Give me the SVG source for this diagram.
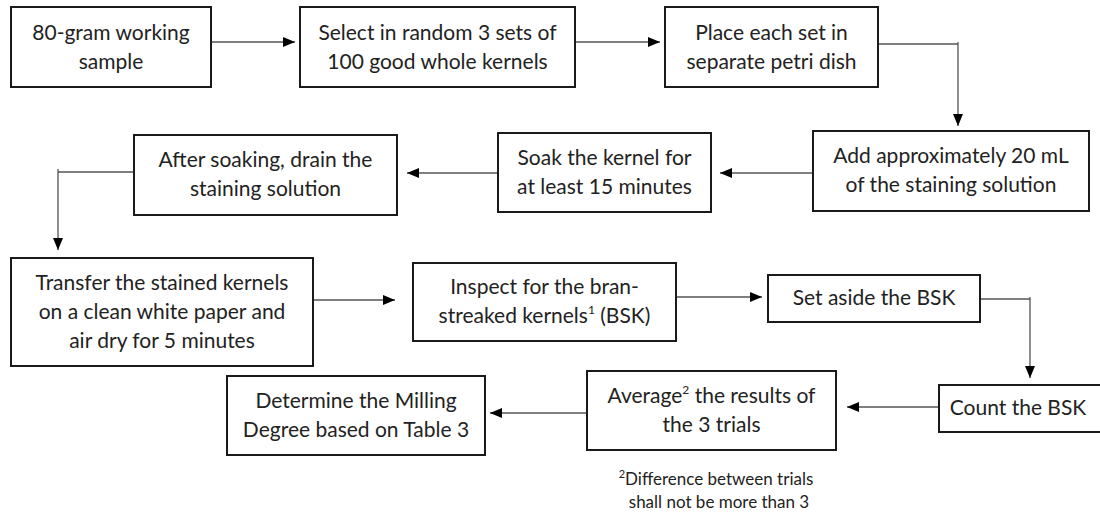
<svg xmlns="http://www.w3.org/2000/svg" width="1100" height="515" viewBox="0 0 1100 515">
<defs>
<style>
.box{fill:#fff;stroke:#1a1a1a;stroke-width:2}
.t{font-family:Lato,"Liberation Sans",sans-serif;font-size:21px;fill:#222;text-anchor:middle}
.fn{font-family:Lato,"Liberation Sans",sans-serif;font-size:17px;fill:#222;text-anchor:middle}
.c{fill:none;stroke:#555;stroke-width:1.3;marker-end:url(#ah)}
</style>
<marker id="ah" markerUnits="userSpaceOnUse" markerWidth="12" markerHeight="10" refX="12" refY="5" orient="auto">
<path d="M0,0 L12,5 L0,10 Z" fill="#000"/>
</marker>
</defs>
<rect width="1100" height="515" fill="#fff"/>
<g id="connectors">
<path class="c" d="M211,42 H295"/>
<path class="c" d="M575,42 H660"/>
<path class="c" d="M878,44 H958 M958,42 V126"/>
<path class="c" d="M813,173 H720"/>
<path class="c" d="M498,173 H407"/>
<path class="c" d="M134,172 H58 M58,169 V250"/>
<path class="c" d="M313,300 H395"/>
<path class="c" d="M676,297 H762"/>
<path class="c" d="M980,299 H1030 M1030,297 V378"/>
<path class="c" d="M939,407 H847"/>
<path class="c" d="M587,413 H490"/>
</g>
<g id="n1"><rect class="box" x="11" y="7" width="200" height="80"/><text class="t" x="111" y="40">80-gram working</text><text class="t" x="111" y="69">sample</text></g>
<g id="n2"><rect class="box" x="300" y="7" width="275" height="80"/><text class="t" x="437.5" y="40">Select in random 3 sets of</text><text class="t" x="437.5" y="69">100 good whole kernels</text></g>
<g id="n3"><rect class="box" x="665" y="7" width="213" height="80"/><text class="t" x="771.5" y="40">Place each set in</text><text class="t" x="771.5" y="69">separate petri dish</text></g>
<g id="n4"><rect class="box" x="813" y="131" width="276" height="80"/><text class="t" x="951" y="163">Add approximately 20 mL</text><text class="t" x="951" y="192">of the staining solution</text></g>
<g id="n5"><rect class="box" x="498" y="133" width="213" height="79"/><text class="t" x="604.5" y="165">Soak the kernel for</text><text class="t" x="604.5" y="194">at least 15 minutes</text></g>
<g id="n6"><rect class="box" x="134" y="135" width="263" height="80"/><text class="t" x="265.5" y="167">After soaking, drain the</text><text class="t" x="265.5" y="196">staining solution</text></g>
<g id="n7"><rect class="box" x="11" y="258" width="302" height="108"/><text class="t" x="162" y="290">Transfer the stained kernels</text><text class="t" x="162" y="319">on a clean white paper and</text><text class="t" x="162" y="348">air dry for 5 minutes</text></g>
<g id="n8"><rect class="box" x="413" y="263" width="263" height="78"/><text class="t" x="544.5" y="294">Inspect for the bran-</text><text class="t" x="544.5" y="323">streaked kernels<tspan font-size="12" dy="-9">1</tspan><tspan dy="9"> (BSK)</tspan></text></g>
<g id="n9"><rect class="box" x="768" y="275" width="212" height="47"/><text class="t" x="874" y="305">Set aside the BSK</text></g>
<g id="n10"><rect class="box" x="939" y="385" width="163" height="47"/><text class="t" x="1018" y="415">Count the BSK</text></g>
<g id="n11"><rect class="box" x="587" y="371" width="249" height="79"/><text class="t" x="711.5" y="403">Average<tspan font-size="12" dy="-9">2</tspan><tspan dy="9"> the results of</tspan></text><text class="t" x="711.5" y="432">the 3 trials</text></g>
<g id="n12"><rect class="box" x="227" y="376" width="258" height="79"/><text class="t" x="356" y="408">Determine the Milling</text><text class="t" x="356" y="437">Degree based on Table 3</text></g>
<g id="footnote"><text class="fn" x="716" y="485"><tspan font-size="11" dy="-7">2</tspan><tspan dy="7">Difference between trials</tspan></text><text class="fn" x="719" y="508">shall not be more than 3</text></g>
</svg>
